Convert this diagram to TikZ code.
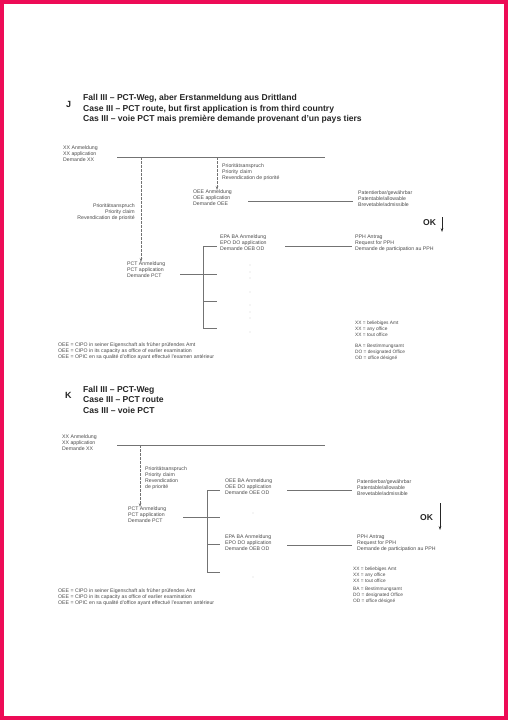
\documentclass[tikz,border=0pt]{standalone}
\usepackage{fontspec}
\setmainfont{Liberation Sans}
\usetikzlibrary{arrows.meta}
\definecolor{framepink}{RGB}{237,11,86}
\tikzset{
  smalltxt/.style={font=\fontsize{5.2}{5.9}\selectfont, text=black!70, inner sep=0pt, align=left, anchor=west},
  titletxt/.style={font=\fontsize{8.6}{10.5}\selectfont\bfseries, text=black!85, inner sep=0pt, align=left, anchor=west},
  conn/.style={draw=black!55, line width=0.6bp},
  dashconn/.style={conn, dash pattern=on 2.5bp off 1.5bp, -{Stealth[length=4bp,width=2.6bp]}},
  okarrow/.style={draw=black!85, line width=0.6bp, -{Stealth[length=4bp,width=2.6bp]}},
  dotmark/.style={fill=black!45},
}
\begin{document}
\begin{tikzpicture}[x=1bp,y=-1bp]
    \fill[framepink] (0,0) rectangle (508,720);
    \fill[white] (4,4) rectangle (504,716);
    \useasboundingbox (0,0) rectangle (508,720);

    % Fall J
    \node[titletxt, font=\fontsize{9}{10}\selectfont\bfseries] (letJ) at (66,104) {J};
    \node[titletxt] (titleJ) at (83,109) {Fall III – PCT-Weg, aber Erstanmeldung aus Drittland\\Case III – PCT route, but first application is from third country\\Cas III – voie PCT mais première demande provenant d'un pays tiers};

    \node[smalltxt] (xxJ) at (63,154) {XX Anmeldung\\XX application\\Demande XX};
    \coordinate (xxJa) at (117,157);
    \coordinate (xxJb) at (325,157);
    \coordinate (dJa) at (141,157);
    \coordinate (dJb) at (217,157);
    \draw[conn] (xxJa) -- (xxJb);

    \node[smalltxt] (priJ) at (222,172) {Prioritätsanspruch\\Priority claim\\Revendication de priorité};
    \node[smalltxt, anchor=east, align=right] (priJL) at (135,212) {Prioritätsanspruch\\Priority claim\\Revendication de priorité};
    \node[smalltxt] (oeeJ) at (193,198) {OEE Anmeldung\\OEE application\\Demande OEE};
    \node[smalltxt] (patJ) at (358,199) {Patentierbar/gewährbar\\Patentable/allowable\\Brevetable/admissible};
    \node[smalltxt] (epaJ) at (220,243) {EPA BA Anmeldung\\EPO DO application\\Demande OEB OD};
    \node[smalltxt] (pphJ) at (355,243) {PPH Antrag\\Request for PPH\\Demande de participation au PPH};
    \node[smalltxt] (pctJ) at (127,270) {PCT Anmeldung\\PCT application\\Demande PCT};
    \node[titletxt] (okJ) at (423,223) {OK};
    \coordinate (okJa) at (442,217);
    \coordinate (okJb) at (442,232);

    \draw[dashconn] (dJa) -- (dJa |- pctJ.north);
    \draw[dashconn] (dJb) -- (dJb |- oeeJ.north);
    \draw[okarrow] (okJa) -- (okJb);

    % Verbindungen J
    \coordinate (oeeJe) at (248,201.7);
    \coordinate (patJw) at (353,201.7);
    \draw[conn] (oeeJe) -- (patJw);
    \coordinate (epaJe) at (285,246);
    \coordinate (pphJw) at (352,246);
    \draw[conn] (epaJe) -- (pphJw);
    \coordinate (pctJe) at (180,274);
    \draw[conn] (pctJe) -- (217,274);
    \draw[conn] (203,246) -- (203,328);
    \foreach \y in {246,274,301,328}
        \draw[conn] (203,\y) -- (217,\y);
    \foreach \y in {265,272,278,292,305,312,318,332}
        \fill[dotmark] (250,\y) circle (0.45);

    \node[smalltxt] (legJ) at (58,351) {OEE = CIPO in seiner Eigenschaft als früher prüfendes Amt\\OEE = CIPO in its capacity as office of earlier examination\\OEE = OPIC en sa qualité d'office ayant effectué l'examen antérieur};
    \node[smalltxt, font=\fontsize{4.8}{5.9}\selectfont] (xxlegJ) at (355,329) {XX = beliebiges Amt\\XX = any office\\XX = tout office};
    \node[smalltxt, font=\fontsize{4.8}{5.9}\selectfont] (balegJ) at (355,352) {BA = Bestimmungsamt\\DO = designated Office\\OD = office désigné};

    % Fall K
    \node[titletxt, font=\fontsize{9}{10}\selectfont\bfseries] (letK) at (65,395) {K};
    \node[titletxt] (titleK) at (83,399.5) {Fall III – PCT-Weg\\Case III – PCT route\\Cas III – voie PCT};

    \node[smalltxt] (xxK) at (62,443) {XX Anmeldung\\XX application\\Demande XX};
    \coordinate (xxKa) at (117,445);
    \coordinate (xxKb) at (325,445);
    \coordinate (dKa) at (140,445);
    \draw[conn] (xxKa) -- (xxKb);

    \node[smalltxt] (priK) at (145,478) {Prioritätsanspruch\\Priority claim\\Revendication\\de priorité};
    \node[smalltxt] (pctK) at (128,515) {PCT Anmeldung\\PCT application\\Demande PCT};
    \node[smalltxt] (oeeK) at (225,487) {OEE BA Anmeldung\\OEE DO application\\Demande OEE OD};
    \node[smalltxt] (patK) at (357,488) {Patentierbar/gewährbar\\Patentable/allowable\\Brevetable/admissible};
    \node[smalltxt] (epaK) at (225,543) {EPA BA Anmeldung\\EPO DO application\\Demande OEB OD};
    \node[smalltxt] (pphK) at (357,543) {PPH Antrag\\Request for PPH\\Demande de participation au PPH};
    \node[titletxt] (okK) at (420,518) {OK};
    \coordinate (okKa) at (440,503);
    \coordinate (okKb) at (440,530);

    \draw[dashconn] (dKa) -- (dKa |- pctK.north);
    \draw[okarrow] (okKa) -- (okKb);

    % Verbindungen K
    \coordinate (oeeKe) at (287,490);
    \coordinate (patKw) at (352,490);
    \draw[conn] (oeeKe) -- (patKw);
    \coordinate (epaKe) at (287,545);
    \coordinate (pphKw) at (352,545);
    \draw[conn] (epaKe) -- (pphKw);
    \coordinate (pctKe) at (183,517);
    \draw[conn] (pctKe) -- (220,517);
    \draw[conn] (207,490) -- (207,572);
    \foreach \y in {490,517,544,572}
        \draw[conn] (207,\y) -- (220,\y);
    \foreach \y in {513,577}
        \fill[dotmark] (253,\y) circle (0.4);

    \node[smalltxt] (legK) at (58,597) {OEE = CIPO in seiner Eigenschaft als früher prüfendes Amt\\OEE = CIPO in its capacity as office of earlier examination\\OEE = OPIC en sa qualité d'office ayant effectué l'examen antérieur};
    \node[smalltxt, font=\fontsize{4.8}{5.9}\selectfont] (xxlegK) at (353,575) {XX = beliebiges Amt\\XX = any office\\XX = tout office};
    \node[smalltxt, font=\fontsize{4.8}{5.9}\selectfont] (balegK) at (353,595) {BA = Bestimmungsamt\\DO = designated Office\\OD = office désigné};
\end{tikzpicture}
\end{document}
